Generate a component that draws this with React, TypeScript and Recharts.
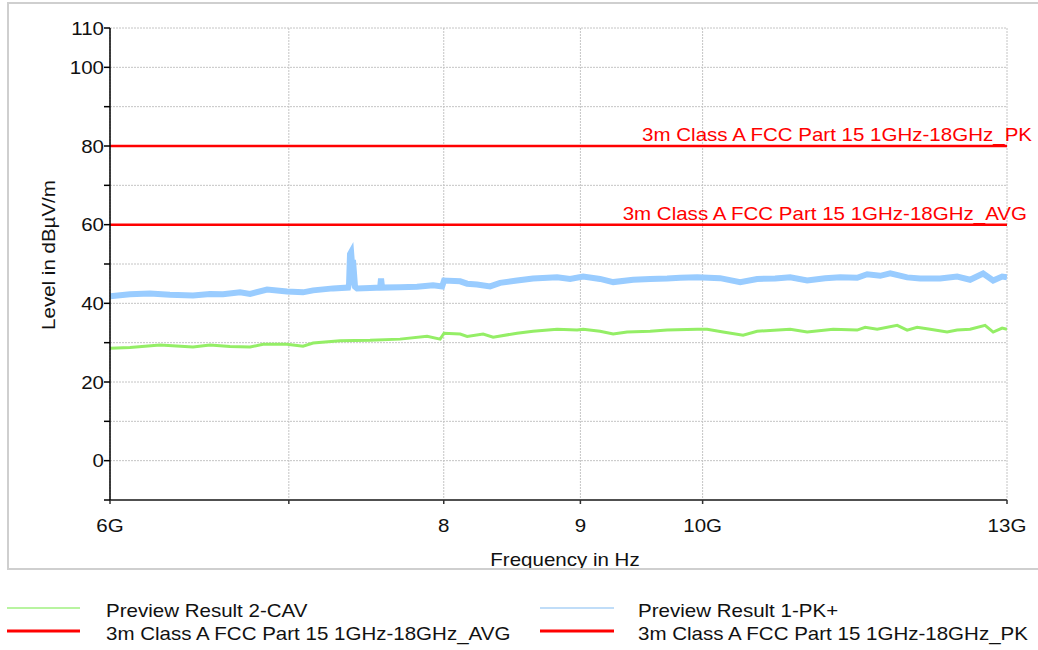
import React from 'react';
import { ComposedChart, Line, XAxis, YAxis, CartesianGrid, ReferenceLine } from 'recharts';

const FONT = "'Liberation Sans', Arial, sans-serif";

// Frequencies in GHz, levels in dBµV/m
const pkFreq = [6.000, 6.104, 6.210, 6.318, 6.445, 6.540, 6.614, 6.712, 6.770, 6.870, 6.989, 7.086, 7.148, 7.272, 7.367, 7.373, 7.379, 7.386, 7.392, 7.398, 7.411, 7.424, 7.508, 7.573, 7.579, 7.586, 7.704, 7.818, 7.927, 7.989, 8.002, 8.114, 8.163, 8.233, 8.326, 8.398, 8.522, 8.640, 8.821, 8.921, 9.021, 9.154, 9.258, 9.419, 9.558, 9.699, 9.808, 9.953, 10.152, 10.329, 10.481, 10.645, 10.784, 10.943, 11.114, 11.259, 11.425, 11.524, 11.654, 11.755, 11.928, 12.062, 12.272, 12.453, 12.593, 12.735, 12.846, 12.946, 13.000];
const pkLevel = [41.8, 42.3, 42.5, 42.2, 42.0, 42.4, 42.3, 42.8, 42.4, 43.5, 43.0, 42.8, 43.3, 43.8, 44.0, 45.0, 52.5, 53.0, 50.0, 51.0, 44.2, 43.8, 43.9, 44.0, 46.3, 44.0, 44.1, 44.2, 44.6, 44.3, 45.8, 45.6, 45.0, 44.8, 44.3, 45.2, 45.8, 46.3, 46.6, 46.2, 46.8, 46.2, 45.4, 46.0, 46.2, 46.3, 46.5, 46.6, 46.4, 45.4, 46.2, 46.3, 46.6, 45.8, 46.4, 46.6, 46.5, 47.4, 47.0, 47.6, 46.6, 46.3, 46.3, 46.8, 46.0, 47.6, 45.8, 46.8, 46.6];

const cavFreq = [6.000, 6.104, 6.264, 6.445, 6.540, 6.654, 6.770, 6.846, 6.989, 7.086, 7.148, 7.316, 7.508, 7.704, 7.886, 7.975, 8.002, 8.114, 8.163, 8.276, 8.348, 8.522, 8.640, 8.821, 8.975, 9.021, 9.154, 9.258, 9.370, 9.558, 9.699, 9.953, 10.039, 10.178, 10.355, 10.481, 10.784, 10.943, 11.191, 11.425, 11.504, 11.624, 11.826, 11.928, 12.031, 12.167, 12.346, 12.453, 12.593, 12.757, 12.846, 12.946, 13.000];
const cavLevel = [28.6, 28.8, 29.4, 28.9, 29.4, 29.0, 28.9, 29.6, 29.6, 29.1, 29.9, 30.5, 30.6, 30.9, 31.6, 30.9, 32.4, 32.2, 31.6, 32.2, 31.4, 32.4, 32.9, 33.4, 33.2, 33.4, 32.9, 32.2, 32.7, 32.9, 33.2, 33.4, 33.4, 32.7, 31.9, 32.9, 33.4, 32.7, 33.4, 33.2, 33.9, 33.4, 34.4, 33.2, 33.9, 33.4, 32.7, 33.2, 33.4, 34.4, 32.7, 33.7, 33.4];

const limitPK = 80;
const limitAVG = 60;
const limitPKName = '3m Class A FCC Part 15 1GHz-18GHz_PK';
const limitAVGName = '3m Class A FCC Part 15 1GHz-18GHz_AVG';
const pkName = 'Preview Result 1-PK+';
const cavName = 'Preview Result 2-CAV';

const xTicks = [6, 7, 8, 9, 10, 13];
const xTickLabels: Record<number, string> = { 6: '6G', 7: '', 8: '8', 9: '9', 10: '10G', 13: '13G' };
const yTicks = [-10, 0, 10, 20, 30, 40, 50, 60, 70, 80, 90, 100, 110];
const yTickLabels: Record<number, string> = { 0: '0', 20: '20', 40: '40', 60: '60', 80: '80', 100: '100', 110: '110' };

const pkData = pkFreq.map((f, i) => ({ f, v: pkLevel[i] }));
const cavData = cavFreq.map((f, i) => ({ f, v: cavLevel[i] }));

const COL_PK = '#99CCFF';
const COL_CAV = '#94EE66';
const COL_LIMIT = '#FF0000';
const SX = 1.14;

function STxt(props: any) {
  const { x, y, anchor = 'start', fill = '#111', size = 18, rotate = false, children } = props;
  return (
    <text
      transform={`translate(${x} ${y})${rotate ? ' rotate(-90)' : ''} scale(${SX} 1)`}
      textAnchor={anchor}
      fontFamily={FONT}
      fontSize={size}
      fill={fill}
    >
      {children}
    </text>
  );
}

function XTick(props: any) {
  const { x, y, payload } = props;
  const label = xTickLabels[payload.value] ?? '';
  return <STxt x={x} y={y + 28} anchor="middle">{label}</STxt>;
}

function YTick(props: any) {
  const { x, y, payload } = props;
  const label = yTickLabels[payload.value] ?? '';
  return <STxt x={x} y={y + 6.5} anchor="end">{label}</STxt>;
}

function LimitLabel(props: any) {
  const { viewBox, text, dx } = props;
  if (!viewBox) return null;
  return (
    <STxt x={viewBox.x + viewBox.width + dx} y={viewBox.y - 5} anchor="end" fill={COL_LIMIT}>
      {text}
    </STxt>
  );
}

export default function App() {
  return (
    <div style={{ position: 'absolute', left: 0, top: 0, width: 1038, height: 650, background: '#fff' }}>
      <ComposedChart width={1038} height={650} margin={{ top: 28, right: 31, bottom: 120, left: 0 }}>
        <CartesianGrid stroke="#c4c4c4" strokeDasharray="2 1" strokeWidth={1} />
        <XAxis
          dataKey="f"
          type="number"
          scale="log"
          domain={[6, 13]}
          ticks={xTicks}
          allowDataOverflow
          height={30}
          axisLine={{ stroke: '#505050', strokeWidth: 2 }}
          tickLine={{ stroke: '#303030', strokeWidth: 1.5 }}
          tickSize={4}
          tickMargin={0}
          tick={<XTick />}
          interval={0}
        />
        <YAxis
          type="number"
          domain={[-10, 110]}
          ticks={yTicks}
          width={110}
          allowDataOverflow
          axisLine={{ stroke: '#000', strokeWidth: 1.5 }}
          tickLine={{ stroke: '#000', strokeWidth: 1.5 }}
          tickSize={6}
          tickMargin={0}
          tick={<YTick />}
          interval={0}
        />
        <Line data={cavData} dataKey="v" type="linear" stroke={COL_CAV} strokeWidth={3} dot={false} isAnimationActive={false} />
        <Line data={pkData} dataKey="v" type="linear" stroke={COL_PK} strokeWidth={6} dot={false} isAnimationActive={false} />
        <ReferenceLine y={limitPK} stroke={COL_LIMIT} strokeWidth={2.5}
          label={<LimitLabel text={limitPKName} dx={25} />} />
        <ReferenceLine y={limitAVG} stroke={COL_LIMIT} strokeWidth={2.5}
          label={<LimitLabel text={limitAVGName} dx={20} />} />
      </ComposedChart>
      <svg width={1038} height={650} style={{ position: 'absolute', left: 0, top: 0, pointerEvents: 'none' }}>
        <defs>
          <clipPath id="frameClip">
            <rect x={0} y={0} width={1038} height={568} />
          </clipPath>
        </defs>
        <g clipPath="url(#frameClip)">
          <STxt x={565} y={566} anchor="middle">Frequency in Hz</STxt>
        </g>
        <STxt x={55} y={255} anchor="middle" rotate>Level in dBµV/m</STxt>
        <rect x={8} y={3} width={1040} height={566} fill="none" stroke="#cfcfcf" strokeWidth={2} />
        <line x1={7} x2={80} y1={608} y2={608} stroke="#B8F4A0" strokeWidth={2} />
        <STxt x={106} y={617}>{cavName}</STxt>
        <line x1={540} x2={614} y1={608} y2={608} stroke="#C0DDF8" strokeWidth={2} />
        <STxt x={638} y={617}>{pkName}</STxt>
        <line x1={7} x2={80} y1={631} y2={631} stroke={COL_LIMIT} strokeWidth={3} />
        <STxt x={106} y={640}>{limitAVGName}</STxt>
        <line x1={540} x2={614} y1={631} y2={631} stroke={COL_LIMIT} strokeWidth={3} />
        <STxt x={638} y={640}>{limitPKName}</STxt>
      </svg>
    </div>
  );
}
